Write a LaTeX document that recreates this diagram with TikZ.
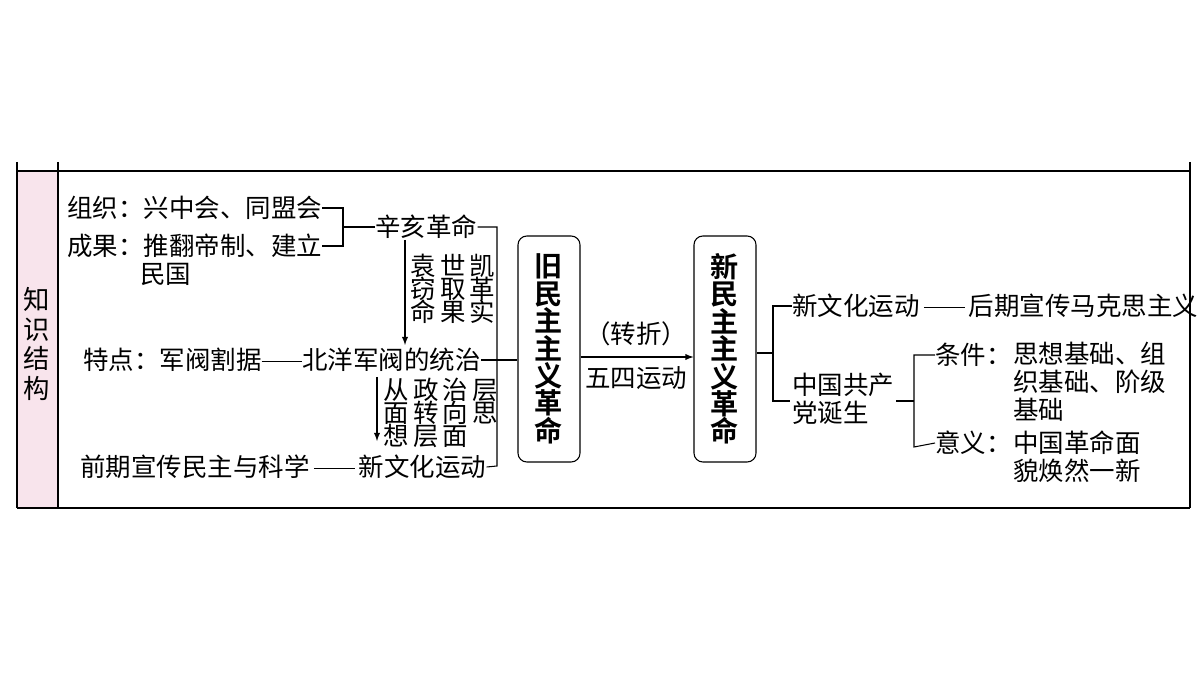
\documentclass[tikz,border=0pt]{standalone}
\usepackage{fontspec}
\setmainfont{Noto Sans CJK SC}
\newfontfamily\boldcjk{Noto Sans CJK SC Bold}
\usetikzlibrary{positioning}
\definecolor{pinkside}{RGB}{248,228,236}
\newcommand{\longdash}{\rule[0.32em]{1.6em}{0.6pt}}
\tikzset{
  txt/.style={anchor=west, inner sep=0pt, font=\fontsize{14.5}{16}\selectfont},
  bigbox/.style={draw, rounded corners=5pt, line width=0.6pt, minimum width=1.24cm, minimum height=4.52cm, align=center, font=\boldcjk\fontsize{16}{15.6}\selectfont},
  conn/.style={line width=0.6pt},
}
\begin{document}
\begin{tikzpicture}[x=0.02cm, y=-0.02cm]
	\useasboundingbox (0,0) rectangle (1200,675);
	
	% frame
	\fill[pinkside] (17,171) rectangle (58,508);
	\draw[line width=0.6pt] (17,162) -- (17,508);
	\draw[line width=0.6pt] (58,162) -- (58,508);
	\draw[line width=0.6pt] (1190,162) -- (1190,508);
	\draw[line width=0.6pt] (17,171) -- (1190,171);
	\draw[line width=1.4pt] (17,508) -- (1190,508);
	\node[align=center, inner sep=0pt, font=\fontsize{15}{17}\selectfont] (side) at (37,344) {知\\识\\结\\构};
	
	% old revolution side
	\node[txt] (org) at (67,208) {组织：兴中会、同盟会};
	\node[txt] (res) at (67,246) {成果：推翻帝制、建立};
	\node[txt] (res2) at (140,274) {民国};
	\node[txt] (xinhai) at (375,227) {辛亥革命};
	\node[txt] (yuan) at (410,292) {\begin{tabular}{@{}l@{}}袁\,世\,凯\\[-4pt]窃\,取\,革\\[-4pt]命\,果\,实\end{tabular}};
	\node[txt] (beiyang) at (83,360) {特点：军阀割据\longdash 北洋军阀的统治};
	\node[txt] (cong) at (383,416) {\begin{tabular}{@{}l@{}}从\,政\,治\,层\\[-4pt]面\,转\,向\,思\\[-4pt]想\,层\,面\end{tabular}};
	\node[txt] (xinwen) at (80,467) {前期宣传民主与科学\,\longdash\,新文化运动};
	\node[bigbox] (old) at (549,349) {旧\\民\\主\\主\\义\\革\\命};
	
	\draw[conn] (org.east) -| (343,227) |- (res.east);
	\draw[conn] (343,227) -- (xinhai.west);
	\draw[conn] (xinhai.east) -| (497,466) -- (xinwen.east);
	\draw[conn] (beiyang.east) -- (old.west |- beiyang.east);
	\draw[conn, -latex] (405,240) -- (405,345);
	\draw[conn, -latex] (377,377) -- (377,441);
	
	% turning point
	\node[bigbox] (new) at (725,349) {新\\民\\主\\主\\义\\革\\命};
	\draw[conn, -latex] (old.east |- 0,357) -- (new.west |- 0,357);
	\node[font=\fontsize{14.5}{16}\selectfont, inner sep=0pt] (turn) at (636,334) {（转折）};
	\node[font=\fontsize{14.5}{16}\selectfont, inner sep=0pt] (wusi) at (636,378) {五四运动};
	
	% new revolution side
	\node[txt] (marx) at (792,306) {新文化运动\,\longdash\,后期宣传马克思主义};
	\node[txt, align=left] (ccp) at (792,399) {中国共产\\党诞生};
	\node[txt] (cond) at (935,355) {条件：};
	\node[txt, align=left, anchor=north west] (condtxt) at (1013,342) {思想基础、组\\织基础、阶级\\基础};
	\node[txt] (mean) at (935,443) {意义：};
	\node[txt, align=left, anchor=north west] (meantxt) at (1013,430) {中国革命面\\貌焕然一新};
	
	\draw[conn] (new.east |- 0,353) -- (773,353);
	\draw[conn] (marx.west) -| (773,401) -- (790,401);
	\draw[conn] (896,401) -- (914,401);
	\draw[conn] (cond.west) -| (914,447) -- (mean.west);
\end{tikzpicture}
\end{document}
